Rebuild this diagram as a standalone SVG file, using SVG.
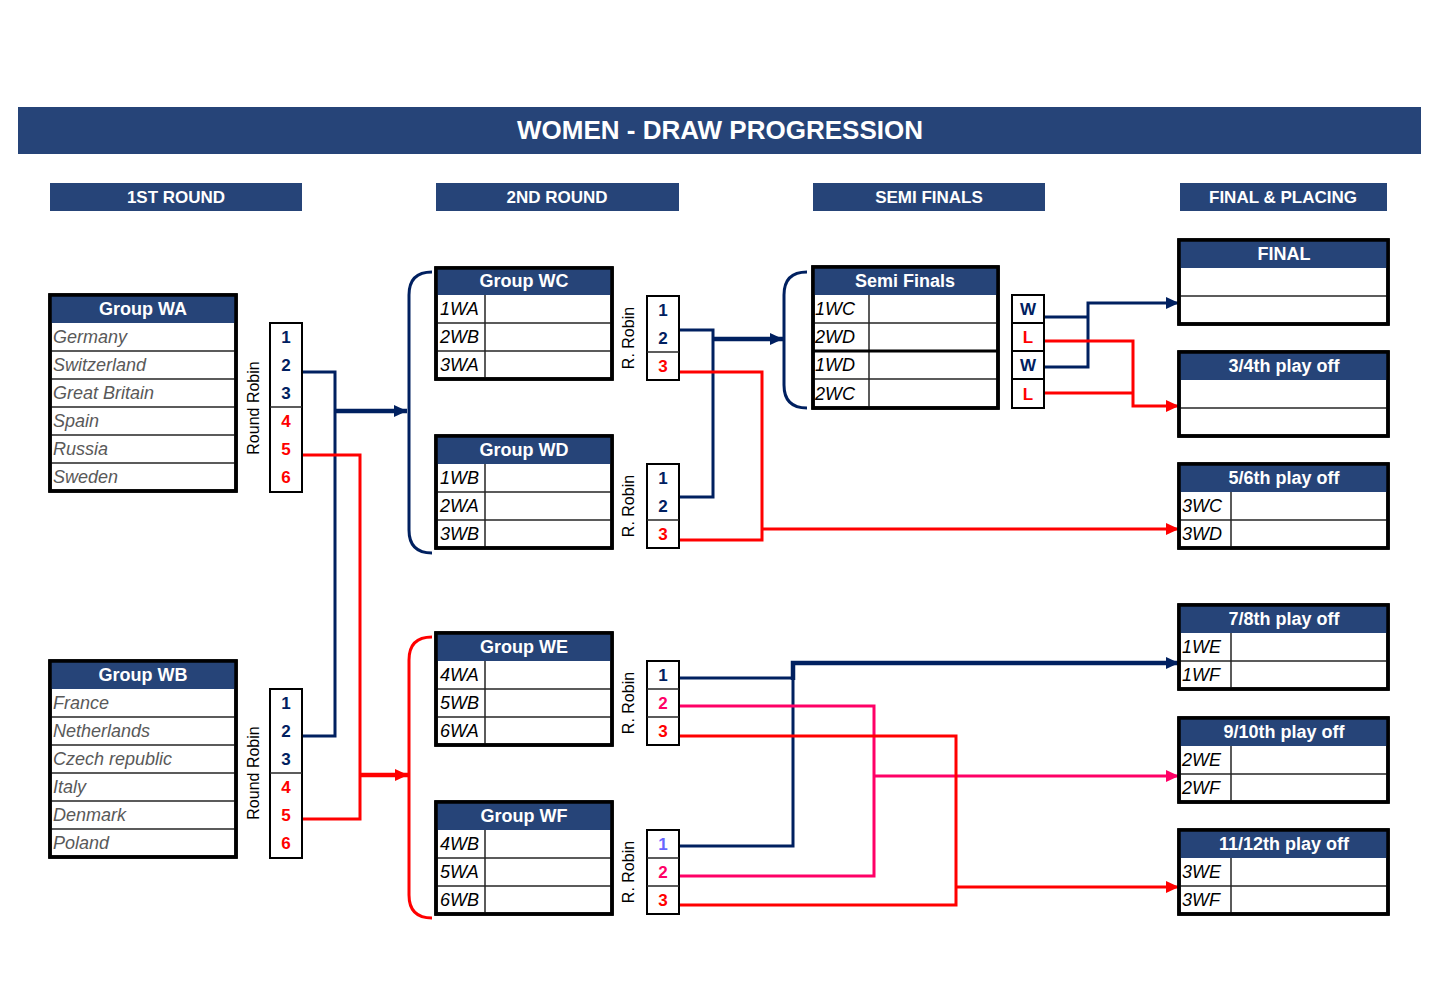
<svg xmlns="http://www.w3.org/2000/svg" width="1440" height="990" viewBox="0 0 1440 990">
<style>
.hdr{fill:#264478}
.t{font-family:"Liberation Sans",Arial,sans-serif;font-weight:bold;fill:#fff;text-anchor:middle}
.tbl{fill:#fff;stroke:#000;stroke-width:3.5}
.tblo{fill:none;stroke:#000;stroke-width:3.5}
.row{stroke:#262626;stroke-width:1.5}
.team{font-family:"Liberation Sans",Arial,sans-serif;font-style:italic;font-size:18px;fill:#595959}
.slot{font-family:"Liberation Sans",Arial,sans-serif;font-style:italic;font-size:18px;fill:#000}
.rank{fill:#fff;stroke:#000;stroke-width:2}
.num{font-family:"Liberation Sans",Arial,sans-serif;font-weight:bold;font-size:17px;text-anchor:middle}
.nb{fill:#002060}.nr{fill:#f00}.np{fill:#FF0066}.nv{fill:#6666FF}
.rr{font-family:"Liberation Sans",Arial,sans-serif;font-size:16px;fill:#000;text-anchor:middle}
.cb{stroke:#002060;stroke-width:3;fill:none}
.cr{stroke:#f00;stroke-width:3;fill:none}
.cp{stroke:#FF0066;stroke-width:3;fill:none}
.thick{stroke-width:4.5}
</style>
<defs>
<marker id="ab" markerUnits="userSpaceOnUse" markerWidth="13" markerHeight="12" refX="13" refY="6" orient="auto"><path d="M0,0 L13,6 L0,12 z" fill="#002060"/></marker>
<marker id="ar" markerUnits="userSpaceOnUse" markerWidth="13" markerHeight="12" refX="13" refY="6" orient="auto"><path d="M0,0 L13,6 L0,12 z" fill="#f00"/></marker>
<marker id="ap" markerUnits="userSpaceOnUse" markerWidth="13" markerHeight="12" refX="13" refY="6" orient="auto"><path d="M0,0 L13,6 L0,12 z" fill="#FF0066"/></marker>
</defs>
<rect width="1440" height="990" fill="#fff"/>

<g id="title">
<rect class="hdr" x="18" y="107" width="1403" height="47"/>
<text class="t" x="720" y="139" font-size="26">WOMEN - DRAW PROGRESSION</text>
</g>
<g id="headers">
<rect class="hdr" x="50" y="183" width="252" height="28"/>
<text class="t" x="176" y="203" font-size="17">1ST ROUND</text>
<rect class="hdr" x="436" y="183" width="243" height="28"/>
<text class="t" x="557" y="203" font-size="17">2ND ROUND</text>
<rect class="hdr" x="813" y="183" width="232" height="28"/>
<text class="t" x="929" y="203" font-size="17">SEMI FINALS</text>
<rect class="hdr" x="1180" y="183" width="207" height="28"/>
<text class="t" x="1283" y="203" font-size="17">FINAL &amp; PLACING</text>
</g>

<g id="connectors">
<path class="cb" d="M302,372 H335 V736 H302"/>
<path class="cb thick" d="M335,411 H407" marker-end="url(#ab)"/>
<path class="cr" d="M302,455 H360 V819 H302"/>
<path class="cr thick" d="M360,775 H408" marker-end="url(#ar)"/>
<path class="cb" d="M432,272 Q409,272 409,295 V530 Q409,553 432,553"/>
<path class="cr" d="M432,637 Q409,637 409,660 V895 Q409,918 432,918"/>
<path class="cb" d="M807,272 Q784,272 784,295 V385 Q784,408 807,408"/>
<path class="cb" d="M679,330 H713 V497 H679"/>
<path class="cb thick" d="M713,339 H783" marker-end="url(#ab)"/>
<path class="cr" d="M679,372 H762 V540 H679"/>
<path class="cr" d="M762,529 H1179" marker-end="url(#ar)"/>
<path class="cb" d="M1044,317 H1088"/>
<path class="cb" d="M1044,367 H1088 V303 H1179" marker-end="url(#ab)"/>
<path class="cr" d="M1044,341 H1133 V406 H1179" marker-end="url(#ar)"/>
<path class="cr" d="M1044,393 H1133"/>
<path class="cb" d="M679,678 H793 V846 H679"/>
<path class="cb thick" d="M793,680 V663 H1179" marker-end="url(#ab)"/>
<path class="cp" d="M679,706 H874 V876 H679"/>
<path class="cp" d="M874,776 H1179" marker-end="url(#ap)"/>
<path class="cr" d="M679,736 H956 V905 H679"/>
<path class="cr" d="M956,887 H1179" stroke-width="5" marker-end="url(#ar)"/>
</g>

<g id="group-wa">
<rect class="tbl" x="50" y="295" width="186" height="196"/>
<rect class="hdr" x="50" y="295" width="186" height="28"/>
<path class="row" d="M50,351 H236 M50,379 H236 M50,407 H236 M50,435 H236 M50,463 H236"/>
<rect class="tblo" x="50" y="295" width="186" height="196"/>
<text class="t" x="143" y="315" font-size="18">Group WA</text>
<text class="team" x="53" y="343">Germany</text>
<text class="team" x="53" y="371">Switzerland</text>
<text class="team" x="53" y="399">Great Britain</text>
<text class="team" x="53" y="427">Spain</text>
<text class="team" x="53" y="455">Russia</text>
<text class="team" x="53" y="483">Sweden</text>
</g>
<g id="rank-wa">
<rect class="rank" x="270" y="323" width="32" height="169"/>
<path class="row" d="M270,407 H302"/>
<text class="num nb" x="286" y="343">1</text>
<text class="num nb" x="286" y="371">2</text>
<text class="num nb" x="286" y="399">3</text>
<text class="num nr" x="286" y="427">4</text>
<text class="num nr" x="286" y="455">5</text>
<text class="num nr" x="286" y="483">6</text>
<text class="rr" transform="translate(259,408) rotate(-90)">Round Robin</text>
</g>

<g id="group-wb">
<rect class="tbl" x="50" y="661" width="186" height="196"/>
<rect class="hdr" x="50" y="661" width="186" height="28"/>
<path class="row" d="M50,717 H236 M50,745 H236 M50,773 H236 M50,801 H236 M50,829 H236"/>
<rect class="tblo" x="50" y="661" width="186" height="196"/>
<text class="t" x="143" y="681" font-size="18">Group WB</text>
<text class="team" x="53" y="709">France</text>
<text class="team" x="53" y="737">Netherlands</text>
<text class="team" x="53" y="765">Czech republic</text>
<text class="team" x="53" y="793">Italy</text>
<text class="team" x="53" y="821">Denmark</text>
<text class="team" x="53" y="849">Poland</text>
</g>
<g id="rank-wb">
<rect class="rank" x="270" y="689" width="32" height="169"/>
<path class="row" d="M270,773 H302"/>
<text class="num nb" x="286" y="709">1</text>
<text class="num nb" x="286" y="737">2</text>
<text class="num nb" x="286" y="765">3</text>
<text class="num nr" x="286" y="793">4</text>
<text class="num nr" x="286" y="821">5</text>
<text class="num nr" x="286" y="849">6</text>
<text class="rr" transform="translate(259,773) rotate(-90)">Round Robin</text>
</g>

<g id="group-wc">
<rect class="tbl" x="436" y="268" width="176" height="111"/>
<rect class="hdr" x="436" y="268" width="176" height="27"/>
<path class="row" d="M436,323 H612 M436,351 H612 M485,295 V379"/>
<rect class="tblo" x="436" y="268" width="176" height="111"/>
<text class="t" x="524" y="287" font-size="18">Group WC</text>
<text class="slot" x="440" y="315">1WA</text>
<text class="slot" x="440" y="343">2WB</text>
<text class="slot" x="440" y="371">3WA</text>
</g>
<g id="rank-wc">
<rect class="rank" x="647" y="296" width="32" height="84"/>
<path class="row" d="M647,352 H679"/>
<text class="num nb" x="663" y="316">1</text>
<text class="num nb" x="663" y="344">2</text>
<text class="num nr" x="663" y="372">3</text>
<text class="rr" transform="translate(634,338) rotate(-90)">R. Robin</text>
</g>

<g id="group-wd">
<rect class="tbl" x="436" y="436" width="176" height="112"/>
<rect class="hdr" x="436" y="436" width="176" height="28"/>
<path class="row" d="M436,492 H612 M436,520 H612 M485,464 V548"/>
<rect class="tblo" x="436" y="436" width="176" height="112"/>
<text class="t" x="524" y="456" font-size="18">Group WD</text>
<text class="slot" x="440" y="484">1WB</text>
<text class="slot" x="440" y="512">2WA</text>
<text class="slot" x="440" y="540">3WB</text>
</g>
<g id="rank-wd">
<rect class="rank" x="647" y="464" width="32" height="84"/>
<path class="row" d="M647,520 H679"/>
<text class="num nb" x="663" y="484">1</text>
<text class="num nb" x="663" y="512">2</text>
<text class="num nr" x="663" y="540">3</text>
<text class="rr" transform="translate(634,506) rotate(-90)">R. Robin</text>
</g>

<g id="group-we">
<rect class="tbl" x="436" y="633" width="176" height="112"/>
<rect class="hdr" x="436" y="633" width="176" height="28"/>
<path class="row" d="M436,689 H612 M436,717 H612 M485,661 V745"/>
<rect class="tblo" x="436" y="633" width="176" height="112"/>
<text class="t" x="524" y="653" font-size="18">Group WE</text>
<text class="slot" x="440" y="681">4WA</text>
<text class="slot" x="440" y="709">5WB</text>
<text class="slot" x="440" y="737">6WA</text>
</g>
<g id="rank-we">
<rect class="rank" x="647" y="661" width="32" height="84"/>
<path class="row" d="M647,689 H679 M647,717 H679"/>
<text class="num nb" x="663" y="681">1</text>
<text class="num np" x="663" y="709">2</text>
<text class="num nr" x="663" y="737">3</text>
<text class="rr" transform="translate(634,703) rotate(-90)">R. Robin</text>
</g>

<g id="group-wf">
<rect class="tbl" x="436" y="802" width="176" height="112"/>
<rect class="hdr" x="436" y="802" width="176" height="28"/>
<path class="row" d="M436,858 H612 M436,886 H612 M485,830 V914"/>
<rect class="tblo" x="436" y="802" width="176" height="112"/>
<text class="t" x="524" y="822" font-size="18">Group WF</text>
<text class="slot" x="440" y="850">4WB</text>
<text class="slot" x="440" y="878">5WA</text>
<text class="slot" x="440" y="906">6WB</text>
</g>
<g id="rank-wf">
<rect class="rank" x="647" y="830" width="32" height="84"/>
<path class="row" d="M647,858 H679 M647,886 H679"/>
<text class="num nv" x="663" y="850">1</text>
<text class="num np" x="663" y="878">2</text>
<text class="num nr" x="663" y="906">3</text>
<text class="rr" transform="translate(634,872) rotate(-90)">R. Robin</text>
</g>

<g id="semi-finals">
<rect class="tbl" x="813" y="267" width="185" height="141"/>
<rect class="hdr" x="813" y="267" width="185" height="28"/>
<path class="row" d="M813,323 H998 M813,379 H998 M869,295 V408"/>
<path d="M813,351 H998" stroke="#000" stroke-width="3"/>
<rect class="tblo" x="813" y="267" width="185" height="141"/>
<text class="t" x="905" y="287" font-size="18">Semi Finals</text>
<text class="slot" x="815" y="315">1WC</text>
<text class="slot" x="815" y="343">2WD</text>
<text class="slot" x="815" y="371">1WD</text>
<text class="slot" x="815" y="400">2WC</text>
</g>
<g id="semi-results">
<rect class="rank" x="1012" y="295" width="32" height="113" stroke-width="3"/>
<path d="M1012,323 H1044 M1012,351 H1044 M1012,379 H1044" stroke="#000" stroke-width="2"/>
<text class="num nb" x="1028" y="315">W</text>
<text class="num nr" x="1028" y="343">L</text>
<text class="num nb" x="1028" y="371">W</text>
<text class="num nr" x="1028" y="400">L</text>
</g>

<g id="final">
<rect class="tbl" x="1179" y="240" width="209" height="84"/>
<rect class="hdr" x="1179" y="240" width="209" height="28"/>
<path class="row" d="M1179,296 H1388"/>
<rect class="tblo" x="1179" y="240" width="209" height="84"/>
<text class="t" x="1284" y="260" font-size="18">FINAL</text>
</g>
<g id="play-off-3-4">
<rect class="tbl" x="1179" y="352" width="209" height="84"/>
<rect class="hdr" x="1179" y="352" width="209" height="28"/>
<path class="row" d="M1179,408 H1388"/>
<rect class="tblo" x="1179" y="352" width="209" height="84"/>
<text class="t" x="1284" y="372" font-size="18">3/4th play off</text>
</g>
<g id="play-off-5-6">
<rect class="tbl" x="1179" y="464" width="209" height="84"/>
<rect class="hdr" x="1179" y="464" width="209" height="28"/>
<path class="row" d="M1179,520 H1388 M1231,492 V548"/>
<rect class="tblo" x="1179" y="464" width="209" height="84"/>
<text class="t" x="1284" y="484" font-size="18">5/6th play off</text>
<text class="slot" x="1182" y="512">3WC</text>
<text class="slot" x="1182" y="540">3WD</text>
</g>
<g id="play-off-7-8">
<rect class="tbl" x="1179" y="605" width="209" height="84"/>
<rect class="hdr" x="1179" y="605" width="209" height="28"/>
<path class="row" d="M1179,661 H1388 M1231,633 V689"/>
<rect class="tblo" x="1179" y="605" width="209" height="84"/>
<text class="t" x="1284" y="625" font-size="18">7/8th play off</text>
<text class="slot" x="1182" y="653">1WE</text>
<text class="slot" x="1182" y="681">1WF</text>
</g>
<g id="play-off-9-10">
<rect class="tbl" x="1179" y="718" width="209" height="84"/>
<rect class="hdr" x="1179" y="718" width="209" height="28"/>
<path class="row" d="M1179,774 H1388 M1231,746 V802"/>
<rect class="tblo" x="1179" y="718" width="209" height="84"/>
<text class="t" x="1284" y="738" font-size="18">9/10th play off</text>
<text class="slot" x="1182" y="766">2WE</text>
<text class="slot" x="1182" y="794">2WF</text>
</g>
<g id="play-off-11-12">
<rect class="tbl" x="1179" y="830" width="209" height="84"/>
<rect class="hdr" x="1179" y="830" width="209" height="28"/>
<path class="row" d="M1179,886 H1388 M1231,858 V914"/>
<rect class="tblo" x="1179" y="830" width="209" height="84"/>
<text class="t" x="1284" y="850" font-size="18">11/12th play off</text>
<text class="slot" x="1182" y="878">3WE</text>
<text class="slot" x="1182" y="906">3WF</text>
</g>
</svg>
